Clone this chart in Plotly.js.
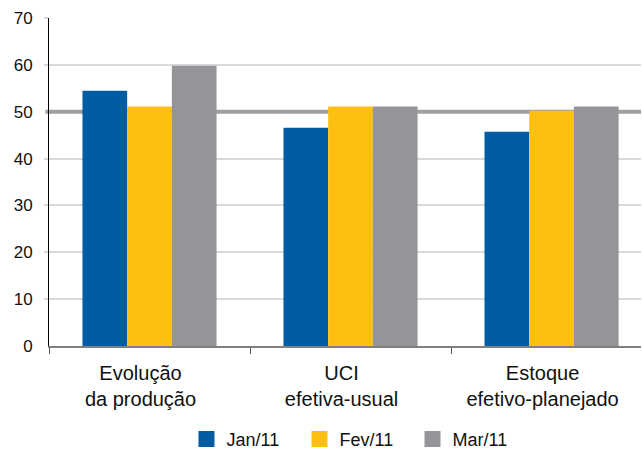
<!DOCTYPE html>
<html>
<head>
<meta charset="utf-8">
<script src="https://cdn.plot.ly/plotly-3.0.1.min.js"></script>
<style>html,body{margin:0;padding:0;background:#fff;}#chart{width:642px;height:450px;}</style>
</head>
<body>
<div id="chart"></div>
<script>
const categories = ["Evolução<br>da produção", "UCI<br>efetiva-usual", "Estoque<br>efetivo-planejado"];
const seriesNames = ["Jan/11", "Fev/11", "Mar/11"];
const jan11 = [54.5, 46.6, 45.7];
const fev11 = [51.1, 51.1, 50.2];
const mar11 = [59.8, 51.1, 51.1];
const yTicks = [0, 10, 20, 30, 40, 50, 60, 70];
const gridTicks = [10, 20, 30, 40, 60, 70];
const referenceLevel = 50;

const colors = ["#005da4", "#fdc010", "#949599"];
const values = [jan11, fev11, mar11];

const traces = values.map((v, i) => ({
  type: "bar",
  name: seriesNames[i],
  x: categories,
  y: v,
  marker: {color: colors[i], line: {width: 0}},
  hoverinfo: "skip"
}));

const layout = {
  width: 642,
  height: 450,
  margin: {l: 49, r: 1, t: 18, b: 104},
  paper_bgcolor: "#ffffff",
  plot_bgcolor: "#ffffff",
  font: {family: "Liberation Sans, Arial, sans-serif", color: "#111111"},
  barmode: "group",
  bargap: 0.333,
  bargroupgap: 0,
  showlegend: true,
  legend: {
    orientation: "h",
    xref: "container",
    yref: "container",
    x: 0.5545,
    xanchor: "center",
    y: 0.0647,
    yanchor: "top",
    font: {size: 18, color: "#111111"},
    entrywidth: 68,
    entrywidthmode: "pixels",
    itemclick: false
  },
  xaxis: {
    type: "category",
    range: [-0.5, 2.445],
    tickson: "boundaries",
    ticks: "outside",
    ticklen: 6,
    tickwidth: 1,
    tickcolor: "#555555",
    showline: true,
    linecolor: "#808080",
    linewidth: 2,
    showgrid: false,
    zeroline: false,
    tickfont: {size: 20, color: "#111111"},
    ticklabelstandoff: 8,
    ticklabelshift: -9,
    fixedrange: true
  },
  yaxis: {
    range: [0, 70],
    tickvals: yTicks,
    ticks: "",
    showline: true,
    linecolor: "#000000",
    linewidth: 1,
    showgrid: false,
    zeroline: false,
    tickfont: {size: 17, color: "#111111"},
    ticklabelstandoff: 12,
    minor: {
      tickvals: gridTicks,
      ticks: "outside",
      ticklen: 4,
      tickcolor: "#d9d9d9",
      tickwidth: 2,
      showgrid: true,
      gridcolor: "#d9d9d9",
      gridwidth: 2
    },
    fixedrange: true
  },
  shapes: [{
    type: "line",
    xref: "paper",
    yref: "y",
    x0: -0.006,
    x1: 1,
    y0: referenceLevel,
    y1: referenceLevel,
    layer: "between",
    line: {color: "#a0a0a3", width: 4}
  }]
};

Plotly.newPlot("chart", traces, layout, {staticPlot: true, displayModeBar: false}).then(() => {
  document.querySelectorAll("#chart .legend .legendpoints path").forEach(p => {
    p.setAttribute("d", "M8,8H-8V-8H8Z");
  });
});
</script>
</body>
</html>
